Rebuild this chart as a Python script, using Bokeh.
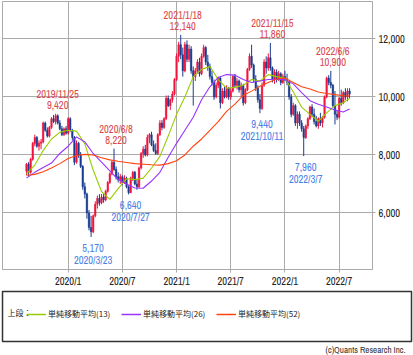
import pandas as pd
from bokeh.plotting import figure
from bokeh.models import (ColumnDataSource, Range1d, FixedTicker, NumeralTickFormatter,
                          Legend, LegendItem, Title, Label)
from bokeh.layouts import column
from bokeh.embed import file_html
from bokeh.resources import INLINE
from bokeh.core.properties import value

# ---------------- data (weekly candles) ----------------
start_week = "2019-08-19"

opens = [7450, 7680, 7400, 7850, 8400, 8600, 8300, 8400, 8450, 9100,
         8850, 8650, 8950, 9250, 9150, 9350, 9100, 8900, 8700, 8900,
         8750, 9250, 8850, 8600, 7750, 8400, 8000, 7600, 6900, 6650,
         6000, 5500, 5350, 5900, 6300, 6500, 6350, 6550, 6450, 6750,
         7050, 7350, 7750, 7500, 7250, 7150, 7250, 7050, 7200, 6900,
         6700, 7200, 7400, 7000, 6900, 7550, 8050, 8200, 8000, 8600,
         8700, 8350, 8150, 8050, 8700, 9100, 8950, 9250, 9950, 9700,
         9900, 10100, 10600, 11400, 11800, 11450, 10900, 11800, 11300, 11650,
         10900, 10700, 10900, 11200, 10800, 11400, 11700, 11200, 11050, 10700,
         10500, 10000, 10400, 10650, 9800, 10200, 10000, 10300, 10000, 10200,
         10700, 10400, 10550, 10250, 10400, 9800, 10250, 10950, 11400, 11100,
         10600, 10300, 9900, 9600, 10400, 11200, 11000, 11350, 11000, 10600,
         10850, 10600, 10800, 10500, 10700, 10600, 10500, 10000, 9400, 9700,
         9100, 9400, 9100, 8900, 8600, 9000, 9250, 9650, 9400, 9150,
         9000, 9250, 9100, 9300, 10000, 10650, 10500, 10400, 9700, 9400,
         9300, 9950, 9800, 10150, 10000, 10200]
highs = [7720, 7750, 7900, 8450, 8700, 8650, 8500, 8550, 9150, 9150,
         8950, 9000, 9300, 9380, 9420, 9400, 9200, 9000, 8950, 9000,
         9300, 9300, 8900, 8650, 8500, 8450, 8100, 7650, 7050, 6700,
         6100, 5900, 5950, 6400, 6600, 6650, 6650, 6650, 6800, 7100,
         7400, 7800, 8220, 7600, 7400, 7350, 7300, 7300, 7250, 6950,
         7250, 7450, 7450, 7150, 7600, 8100, 8300, 8350, 8700, 8750,
         8800, 8500, 8400, 8750, 9200, 9200, 9300, 10050, 10050, 9950,
         10200, 10650, 11500, 11900, 12140, 11700, 11900, 11950, 11800, 11750,
         11050, 11000, 11300, 11350, 11500, 11800, 11750, 11450, 11150, 10900,
         10600, 10500, 10700, 10700, 10300, 10350, 10400, 10350, 10300, 10750,
         10800, 10650, 10600, 10500, 10450, 10300, 11000, 11500, 11800, 11150,
         10750, 10400, 10100, 10500, 11300, 11400, 11500, 11860, 11050, 10950,
         10950, 10900, 10850, 10800, 10900, 10800, 10550, 10100, 9800, 9750,
         9500, 9500, 9200, 9000, 9050, 9300, 9700, 9750, 9600, 9350,
         9300, 9450, 9350, 10050, 10700, 10750, 10900, 10450, 10200, 9550,
         10000, 10250, 10200, 10300, 10300, 10300]
lows = [7300, 7250, 7350, 7800, 8300, 8250, 8150, 8200, 8400, 8800,
        8600, 8600, 8900, 9100, 9050, 9050, 8850, 8650, 8650, 8700,
        8700, 8800, 8500, 7650, 7700, 7900, 7550, 6800, 6500, 5800,
        5400, 5170, 5300, 5850, 6150, 6250, 6300, 6350, 6400, 6700,
        7000, 7300, 7450, 7150, 7050, 7000, 6950, 7000, 6850, 6640,
        6680, 7100, 6950, 6800, 6850, 7500, 7900, 7950, 7950, 8400,
        8300, 8100, 8000, 8000, 8650, 8850, 8900, 9200, 9650, 9550,
        9800, 10050, 10550, 11200, 11300, 10700, 10850, 11200, 11200, 10800,
        9700, 10550, 10800, 10700, 10750, 11350, 11100, 10900, 10600, 10400,
        9900, 9950, 10300, 9600, 9750, 9950, 9950, 9900, 9900, 10150,
        10300, 10250, 10150, 10000, 9700, 9750, 10200, 10900, 11000, 10500,
        10200, 9800, 9440, 9550, 10350, 10800, 10900, 10900, 10500, 10450,
        10500, 10550, 10400, 10450, 10550, 10400, 9900, 9300, 9350, 9000,
        8900, 9000, 8800, 7960, 8550, 8900, 9200, 9300, 9050, 8950,
        8900, 9000, 8950, 9250, 9950, 10400, 10300, 9650, 9050, 9200,
        9250, 9700, 9750, 9900, 9850, 9950]
closes = [7680, 7400, 7850, 8400, 8600, 8300, 8400, 8450, 9100, 8850,
          8650, 8950, 9250, 9150, 9350, 9100, 8900, 8700, 8900, 8750,
          9250, 8850, 8600, 7750, 8400, 8000, 7600, 6900, 6650, 6000,
          5500, 5350, 5900, 6300, 6500, 6350, 6550, 6450, 6750, 7050,
          7350, 7750, 7500, 7250, 7150, 7250, 7050, 7200, 6900, 6700,
          7200, 7400, 7000, 6900, 7550, 8050, 8200, 8000, 8600, 8700,
          8350, 8150, 8050, 8700, 9100, 8950, 9250, 9950, 9700, 9900,
          10100, 10600, 11400, 11800, 11450, 10900, 11800, 11300, 11650, 10900,
          10700, 10900, 11200, 10800, 11400, 11700, 11200, 11050, 10700, 10500,
          10000, 10400, 10650, 9800, 10200, 10000, 10300, 10000, 10200, 10700,
          10400, 10550, 10250, 10400, 9800, 10250, 10950, 11400, 11100, 10600,
          10300, 9900, 9600, 10400, 11200, 11000, 11350, 11000, 10600, 10850,
          10600, 10800, 10500, 10700, 10600, 10500, 10000, 9400, 9700, 9100,
          9400, 9100, 8900, 8600, 9000, 9250, 9650, 9400, 9150, 9000,
          9250, 9100, 9300, 10000, 10650, 10500, 10400, 9700, 9400, 9300,
          9950, 9800, 10150, 10000, 10200, 10100]

# moving averages every 4 weeks (week index -> value)
ma_weeks = [0, 4, 8, 12, 16, 20, 24, 28, 32, 36, 40, 44, 48, 52, 56, 60, 64, 68, 72, 76,
            80, 84, 88, 92, 96, 100, 104, 108, 112, 116, 120, 124, 128, 132, 136, 140,
            144, 148, 152, 155]
ma13 = [7350, 7650, 8150, 8550, 8780, 8850, 8820, 8380, 7480, 6740, 6470, 6840, 7180, 7150,
        7200, 7550, 7950, 8650, 9400, 10000, 10700, 10950, 11050, 10600, 10300, 10330, 10400,
        10600, 10550, 10770, 10700, 10650, 10170, 9650, 9400, 9160, 9450, 9700, 9800, 9950]
ma26 = [7200, 7400, 7570, 7720, 8050, 8300, 8620, 8450, 8050, 7750, 7450, 7150, 7000, 6860,
        6850, 7100, 7400, 7920, 8400, 8850, 9300, 9900, 10350, 10670, 10770, 10750, 10600,
        10500, 10550, 10600, 10600, 10600, 10450, 10150, 9870, 9750, 9650, 9550, 9480, 9580]
ma52 = [7300, 7330, 7420, 7550, 7700, 7880, 7980, 8020, 8000, 7900, 7830, 7780, 7740, 7700,
        7680, 7660, 7650, 7700, 7800, 8000, 8300, 8550, 8850, 9150, 9500, 9750, 10050,
        10200, 10370, 10500, 10620, 10650, 10500, 10350, 10270, 10170, 10120, 10080, 10040, 10030]
ma_names = ["単純移動平均(13)", "単純移動平均(26)", "単純移動平均(52)"]

high_marks = ["2019-11-25", "2020-06-08", "2021-01-18", "2021-11-15", "2022-06-06"]
low_marks = ["2020-03-23", "2020-07-27", "2021-10-11", "2022-03-07"]

y_ticks = [6000, 8000, 10000, 12000]
x_tick_months = [(2020, 1), (2020, 7), (2021, 1), (2021, 7), (2022, 1), (2022, 7)]

# ---------------- styles ----------------
UP = "#f0143c"
DOWN = "#1a3d8f"
C13, C26, C52 = "#99cc00", "#9933ff", "#ff4411"
RED_TXT = "#d9484a"
BLUE_TXT = "#4a7fe6"
GRID = "#aaaaaa"
FONT = "'Archivo Narrow', 'Asap Condensed', Roboto, sans-serif"
JFONT = "'Noto Sans CJK JP', sans-serif"

dates = pd.date_range(start_week, periods=len(closes), freq="7D")
idx = list(range(len(closes)))
colors = [UP if c > o else DOWN for o, c in zip(opens, closes)]
src = ColumnDataSource(dict(
    x=idx, h=highs, l=lows,
    top=[max(o, c) for o, c in zip(opens, closes)],
    bottom=[min(o, c) for o, c in zip(opens, closes)],
    color=colors))

p = figure(width=413, height=290, x_range=Range1d(-11.5, 166.0), y_range=Range1d(4050, 13290),
           y_axis_location="right", output_backend="svg", toolbar_location=None,
           min_border_left=2, min_border_right=41, min_border_top=1, min_border_bottom=14)
p.frame_align = False
p.outline_line_color = GRID
p.background_fill_color = "white"
p.grid.grid_line_color = GRID

p.segment(x0="x", y0="l", x1="x", y1="h", line_color="color", line_width=1, source=src)
p.vbar(x="x", width=0.72, top="top", bottom="bottom", fill_color="color",
       line_color="color", line_width=0.5, source=src)

r13 = p.line(ma_weeks, ma13, line_color=C13, line_width=1.1)
r26 = p.line(ma_weeks, ma26, line_color=C26, line_width=1.1)
r52 = p.line(ma_weeks, ma52, line_color=C52, line_width=1.1)

# annotations of extremes
date_str = [f"{d.year}/{d.month}/{d.day}" for d in dates]
date_key = [d.strftime("%Y-%m-%d") for d in dates]
hi_i = [date_key.index(d) for d in high_marks]
lo_i = [date_key.index(d) for d in low_marks]

common = dict(text_align="center", text_font=value(FONT), text_font_size="10.5px", x_offset=2)
p.text(x=hi_i, y=[highs[i] for i in hi_i], text=[f"{highs[i]:,}" for i in hi_i],
       text_baseline="alphabetic", y_offset=-8.5, text_color=RED_TXT, **common)
p.text(x=hi_i, y=[highs[i] for i in hi_i], text=[date_str[i] for i in hi_i],
       text_baseline="alphabetic", y_offset=-20, text_color=RED_TXT, **common)
p.text(x=lo_i, y=[lows[i] for i in lo_i], text=[f"{lows[i]:,}" for i in lo_i],
       text_baseline="alphabetic", y_offset=11, text_color=BLUE_TXT, **common)
p.text(x=lo_i, y=[lows[i] for i in lo_i], text=[date_str[i] for i in lo_i],
       text_baseline="alphabetic", y_offset=23, text_color=BLUE_TXT, **common)

# axes
p.yaxis.ticker = FixedTicker(ticks=y_ticks)
p.yaxis.formatter = NumeralTickFormatter(format="0,0")
x_ticks = [next(i for i, d in enumerate(dates) if (d.year, d.month) == ym) for ym in x_tick_months]
p.xaxis.ticker = FixedTicker(ticks=x_ticks)
p.xaxis.major_label_overrides = {t: f"{y}/{m}" for t, (y, m) in zip(x_ticks, x_tick_months)}
for ax in (p.xaxis[0], p.yaxis[0]):
    ax.axis_line_color = GRID
    ax.major_tick_line_color = GRID
    ax.major_tick_in = 0
    ax.major_tick_out = 3
    ax.minor_tick_line_color = None
    ax.major_label_text_font = FONT
    ax.major_label_text_font_size = "10.5px"
    ax.major_label_text_color = "#222222"
p.xaxis.major_label_standoff = 1
p.yaxis.major_label_standoff = 3

# ---------------- legend panel ----------------
q = figure(width=413, height=65, x_range=Range1d(0, 1), y_range=Range1d(0, 1),
           output_backend="svg", toolbar_location=None,
           min_border_left=2, min_border_right=2, min_border_top=1, min_border_bottom=13)
q.frame_align = False
q.axis.visible = False
q.grid.visible = False
q.outline_line_color = "#333333"
q.outline_line_width = 1.5
l13 = q.line([5, 6], [5, 6], line_color=C13, line_width=1.5)
l26 = q.line([5, 6], [5, 6], line_color=C26, line_width=1.5)
l52 = q.line([5, 6], [5, 6], line_color=C52, line_width=1.5)
legend = Legend(items=[LegendItem(label=n, renderers=[r]) for n, r in zip(ma_names, [l13, l26, l52])],
                orientation="horizontal", location=(24, 22), padding=2, margin=0,
                glyph_width=20, glyph_height=10, label_standoff=2, label_width=70, spacing=3,
                label_text_font=JFONT, label_text_font_size="8px",
                label_text_color="#222222", border_line_color=None, background_fill_alpha=0)
q.add_layout(legend)
q.add_layout(Label(x=0.012, y=0.58, text="上段：", text_font=JFONT, text_font_size="8px",
                   text_baseline="middle", text_color="#222222"))
q.add_layout(Title(text="(c)Quants Research Inc.", align="right", text_font=FONT,
                   text_font_size="9px", text_font_style="normal", text_color="#333333",
                   offset=6, standoff=0), "below")

layout = column(p, q, spacing=0)
open("out.html", "w").write(file_html(layout, INLINE))
